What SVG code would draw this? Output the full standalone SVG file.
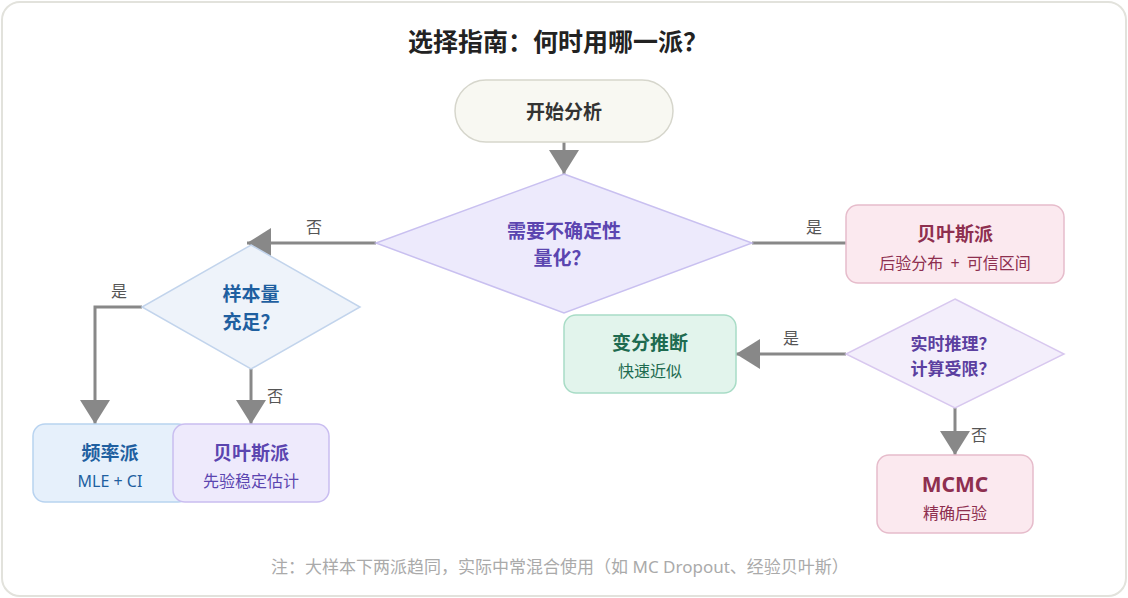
<svg xmlns="http://www.w3.org/2000/svg" width="1128" height="598" viewBox="0 0 1128 598">
<defs>
<style>
text{font-family:"Noto Sans","Noto Sans CJK SC",sans-serif;text-anchor:middle;dominant-baseline:central}
.title{font-size:25px;font-weight:bold;fill:#222}
.h{font-size:19px;font-weight:bold}
.s{font-size:16px}
.lbl{font-size:16px;fill:#555}
.edge{stroke:#888;stroke-width:3;fill:none}
.foot{font-size:17px;fill:#aaa}
</style>
<marker id="arr" viewBox="0 0 8 10" refX="8" refY="5" markerWidth="8" markerHeight="10" orient="auto" markerUnits="strokeWidth">
<path d="M0,0 L8,5 L0,10 z" fill="#888"/>
</marker>
</defs>
<rect x="2" y="2" width="1124" height="594" rx="18" fill="#fff" stroke="#e2e2dc" stroke-width="2"/>
<text class="title" x="558" y="41">选择指南：何时用哪一派？</text>

<g id="connectors">
<line class="edge" x1="564" y1="142" x2="564" y2="174" marker-end="url(#arr)"/>
<line class="edge" x1="752" y1="243" x2="846" y2="243"/>
<text class="lbl" x="814" y="227">是</text>
<line class="edge" x1="376" y1="243" x2="247" y2="243" marker-end="url(#arr)"/>
<text class="lbl" x="314" y="227">否</text>
<polyline class="edge" points="142,307 95,307 95,424" marker-end="url(#arr)"/>
<text class="lbl" x="119" y="291">是</text>
<line class="edge" x1="251" y1="369" x2="251" y2="424" marker-end="url(#arr)"/>
<text class="lbl" x="275" y="396">否</text>
<line class="edge" x1="846" y1="354" x2="736" y2="354" marker-end="url(#arr)"/>
<text class="lbl" x="791" y="338">是</text>
<line class="edge" x1="955" y1="408" x2="955" y2="455" marker-end="url(#arr)"/>
<text class="lbl" x="979" y="435">否</text>
</g>

<g id="start">
<rect x="455" y="80" width="218" height="62" rx="31" fill="#f8f8f2" stroke="#d6d6cc" stroke-width="1.5"/>
<text class="h" x="564" y="112" fill="#333">开始分析</text>
</g>

<g id="q1">
<polygon points="564,174 752,243 564,313 376,243" fill="#edeafc" stroke="#c9c0f0" stroke-width="1.5"/>
<text class="h" x="564" y="231" fill="#5b45b0">需要不确定性</text>
<text class="h" x="562" y="258" fill="#5b45b0">量化？</text>
</g>

<g id="bayes1">
<rect x="846" y="205" width="218" height="78" rx="12" fill="#fbe9ef" stroke="#e6bccb" stroke-width="1.5"/>
<text class="h" x="955" y="234" fill="#8e2f4f">贝叶斯派</text>
<text class="s" x="955" y="263" fill="#8e2f4f" style="word-spacing:3px">后验分布 + 可信区间</text>
</g>

<g id="q2">
<polygon points="251,245 360,307 251,369 142,307" fill="#eef3fa" stroke="#c2d4ec" stroke-width="1.5"/>
<text class="h" x="251" y="294" fill="#1f5fa0">样本量</text>
<text class="h" x="251" y="322" fill="#1f5fa0">充足？</text>
</g>

<g id="freq">
<rect x="33" y="424" width="157" height="78" rx="12" fill="#e6f0fb" stroke="#b8d3f0" stroke-width="1.5"/>
<text class="h" x="110" y="453" fill="#1f5fa0">频率派</text>
<text class="s" x="110" y="481" fill="#1f5fa0">MLE + CI</text>
</g>

<g id="bayes2">
<rect x="173" y="424" width="156" height="78" rx="12" fill="#eeeafc" stroke="#c9bdf0" stroke-width="1.5"/>
<text class="h" x="251" y="453" fill="#5b45b0">贝叶斯派</text>
<text class="s" x="251" y="481" fill="#5b45b0">先验稳定估计</text>
</g>

<g id="q3">
<polygon points="955,299 1064,354 955,408 846,354" fill="#f3eefb" stroke="#d8c8ef" stroke-width="1.5"/>
<text class="h" x="953" y="343" fill="#5b3fa0" style="font-size:17px">实时推理？</text>
<text class="h" x="953" y="368" fill="#5b3fa0" style="font-size:17px">计算受限？</text>
</g>

<g id="vi">
<rect x="564" y="315" width="172" height="78" rx="12" fill="#e2f4ec" stroke="#a8dcc6" stroke-width="1.5"/>
<text class="h" x="650" y="343" fill="#1e6b50">变分推断</text>
<text class="s" x="650" y="371" fill="#1e6b50">快速近似</text>
</g>

<g id="mcmc">
<rect x="877" y="455" width="156" height="78" rx="12" fill="#fbe9ef" stroke="#e6bccb" stroke-width="1.5"/>
<text class="h" x="955" y="484" fill="#8e2f4f" style="font-size:21px">MCMC</text>
<text class="s" x="955" y="513" fill="#8e2f4f">精确后验</text>
</g>

<text class="foot" x="560" y="566">注：大样本下两派趋同，实际中常混合使用（如 MC Dropout、经验贝叶斯）</text>
</svg>
